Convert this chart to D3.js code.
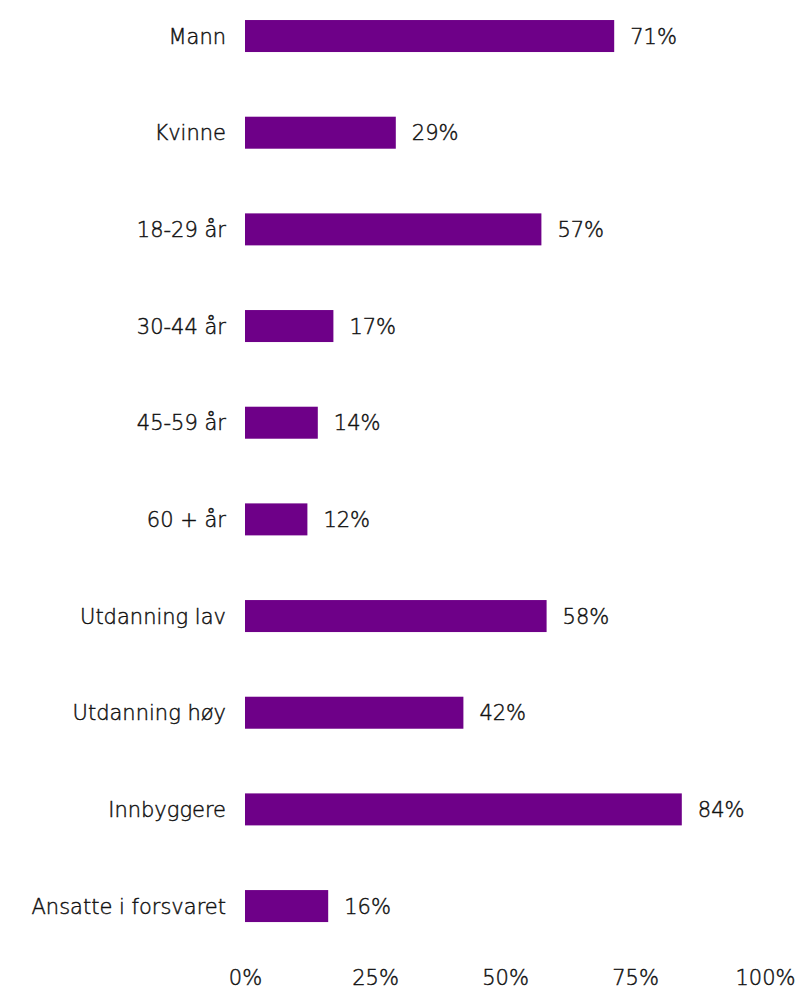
<!DOCTYPE html>
<html>
<head>
<meta charset="utf-8">
<script src="https://cdn.jsdelivr.net/npm/d3@7"></script>
<style>
  html, body { margin: 0; padding: 0; background: #fff; }
  svg { display: block; }
  text {
    font-family: "DejaVu Sans", "Noto Sans", sans-serif;
    font-weight: 200;
    fill: #111;
    stroke: #111;
    stroke-width: 0.45px;
  }
</style>
</head>
<body>
<svg id="chart" width="798" height="990"></svg>
<script>
// Share of respondents per group (percent)
const categories = ["Mann", "Kvinne", "18-29 år", "30-44 år", "45-59 år", "60 + år",
  "Utdanning lav", "Utdanning høy", "Innbyggere", "Ansatte i forsvaret"];
const values = [71, 29, 57, 17, 14, 12, 58, 42, 84, 16];
const tickValues = [0, 25, 50, 75, 100];

const svg = d3.select("#chart");
const x0 = 245, x1 = 765;
const barColor = "#6e0088";
const fontSize = 21;

const x = d3.scaleLinear().domain([0, 100]).range([x0, x1]);

// band step ≈ 96.7px, bar thickness ≈ 32px
const pad = 0.669;
const y = d3.scaleBand()
  .domain(categories)
  .range([-12.3, 954.4])
  .paddingInner(pad)
  .paddingOuter(pad / 2);

const rows = categories.map((c, i) => ({ c, v: values[i] }));

svg.append("g").selectAll("rect")
  .data(rows)
  .join("rect")
  .attr("x", x(0))
  .attr("y", d => y(d.c))
  .attr("width", d => x(d.v) - x(0))
  .attr("height", y.bandwidth())
  .attr("fill", barColor);

// category labels
svg.append("g").selectAll("text")
  .data(rows)
  .join("text")
  .attr("x", x0 - 19)
  .attr("y", d => y(d.c) + y.bandwidth() / 2)
  .attr("dy", "0.36em")
  .attr("text-anchor", "end")
  .attr("font-size", fontSize)
  .text(d => d.c);

// value labels
svg.append("g").selectAll("text")
  .data(rows)
  .join("text")
  .attr("x", d => x(d.v) + 16)
  .attr("y", d => y(d.c) + y.bandwidth() / 2)
  .attr("dy", "0.36em")
  .attr("text-anchor", "start")
  .attr("font-size", fontSize)
  .text(d => d.v + "%");

// x axis (labels only)
const axis = d3.axisBottom(x)
  .tickValues(tickValues)
  .tickFormat(d => d + "%")
  .tickSize(0)
  .tickPadding(0);

const gx = svg.append("g")
  .attr("transform", "translate(0,985)")
  .call(axis);
gx.select(".domain").remove();
gx.attr("font-family", null).attr("font-size", null);
gx.selectAll("text")
  .attr("font-size", fontSize)
  .attr("dy", 0)
  .attr("fill", "#111");
</script>
</body>
</html>
